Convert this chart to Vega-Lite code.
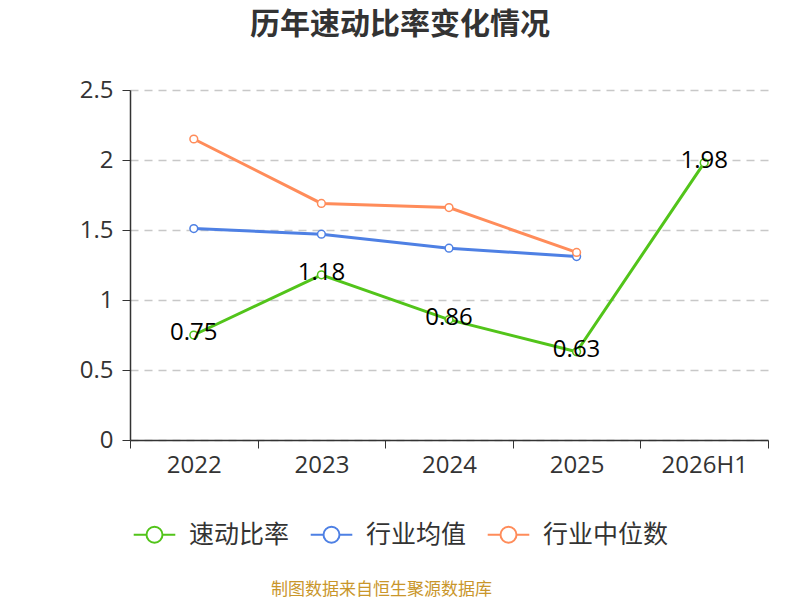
{
  "$schema": "https://vega.github.io/schema/vega-lite/v6.json",
  "width": 638,
  "height": 350,
  "autosize": {"type": "none"},
  "padding": {"left": 130, "top": 90, "right": 32, "bottom": 160},
  "background": "white",
  "title": {
    "text": "历年速动比率变化情况",
    "fontSize": 30,
    "fontWeight": "bold",
    "color": "#333333",
    "anchor": "middle",
    "dx": -49,
    "offset": 38
  },
  "config": {
    "font": "Noto Sans CJK SC",
    "view": {"stroke": null}
  },
  "data": {
    "values": [
      {"year": "2022", "series": "速动比率", "value": 0.75},
      {"year": "2023", "series": "速动比率", "value": 1.18},
      {"year": "2024", "series": "速动比率", "value": 0.86},
      {"year": "2025", "series": "速动比率", "value": 0.63},
      {"year": "2026H1", "series": "速动比率", "value": 1.98},
      {"year": "2022", "series": "行业均值", "value": 1.51},
      {"year": "2023", "series": "行业均值", "value": 1.47},
      {"year": "2024", "series": "行业均值", "value": 1.37},
      {"year": "2025", "series": "行业均值", "value": 1.31},
      {"year": "2022", "series": "行业中位数", "value": 2.15},
      {"year": "2023", "series": "行业中位数", "value": 1.69},
      {"year": "2024", "series": "行业中位数", "value": 1.66},
      {"year": "2025", "series": "行业中位数", "value": 1.34}
    ]
  },
  "encoding": {
    "x": {
      "field": "year",
      "type": "nominal",
      "sort": ["2022", "2023", "2024", "2025", "2026H1"],
      "scale": {"domain": ["2022", "2023", "2024", "2025", "2026H1"], "paddingInner": 0, "paddingOuter": 0},
      "axis": {
        "labelAngle": 0,
        "labelFont": "Open Sans",
        "labelFontSize": 24,
        "labelColor": "#333333",
        "labelPadding": 5,
        "tickBand": "extent",
        "tickSize": 8,
        "tickColor": "#333333",
        "domainColor": "#333333",
        "domainWidth": 1.5,
        "title": "制图数据来自恒生聚源数据库",
        "titleColor": "#c9962b",
        "titleFontSize": 17,
        "titleFontWeight": "normal",
        "titleX": 251,
        "titleY": 149,
        "titleBaseline": "middle",
        "titleAlign": "center"
      }
    },
    "y": {
      "field": "value",
      "type": "quantitative",
      "scale": {"domain": [0, 2.5]},
      "axis": {
        "values": [0, 0.5, 1, 1.5, 2, 2.5],
        "format": ".1~f",
        "labelFont": "Open Sans",
        "labelFontSize": 24,
        "labelColor": "#333333",
        "labelPadding": 9,
        "tickSize": 8,
        "tickColor": "#333333",
        "domainColor": "#333333",
        "domainWidth": 1.5,
        "gridColor": "#c8c8c8",
        "gridDash": [8, 6],
        "gridWidth": 1.5,
        "title": null
      }
    },
    "stroke": {
      "field": "series",
      "type": "nominal",
      "scale": {
        "domain": ["速动比率", "行业均值", "行业中位数"],
        "range": ["#52c41a", "#4e80e4", "#ff8c5a"]
      },
      "legend": {
        "orient": "none",
        "direction": "horizontal",
        "legendX": 12,
        "legendY": 432,
        "title": null,
        "symbolType": "M-2.6,0H-1M1,0H2.6M-1,0A1,1 0 1,1 1,0A1,1 0 1,1 -1,0",
        "symbolSize": 256,
        "symbolStrokeWidth": 2,
        "symbolFillColor": "white",
        "labelFontSize": 25,
        "labelColor": "#333333",
        "labelOffset": 22,
        "columnPadding": 16
      }
    }
  },
  "layer": [
    {
      "mark": {"type": "line", "strokeWidth": 3}
    },
    {
      "mark": {"type": "point", "shape": "circle", "filled": false, "fill": "white", "fillOpacity": 1, "size": 60, "strokeWidth": 1.5, "opacity": 1}
    },
    {
      "transform": [{"filter": "datum.series === '速动比率'"}],
      "mark": {"type": "text", "font": "Open Sans", "fontSize": 24, "color": "#000000", "baseline": "middle", "dy": -2},
      "encoding": {
        "text": {"field": "value", "type": "quantitative", "format": ".2f"},
        "stroke": {"value": null}
      }
    }
  ]
}
